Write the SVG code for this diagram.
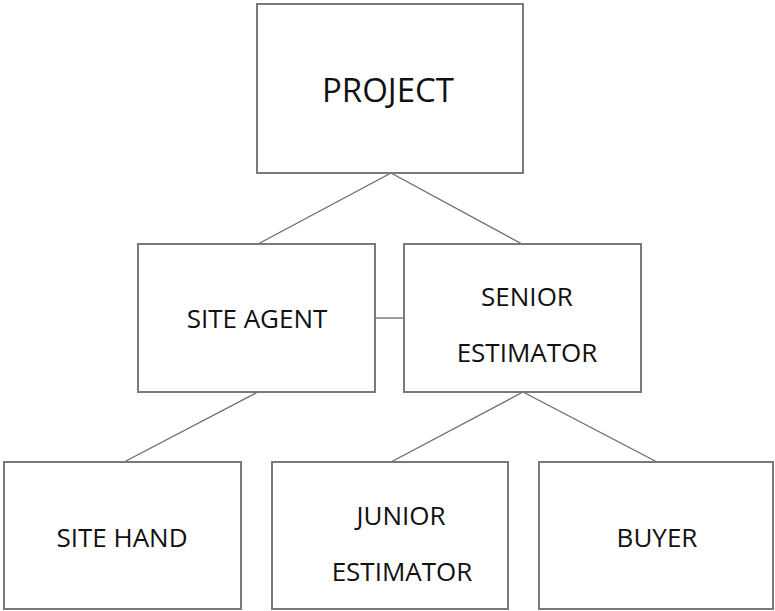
<svg xmlns="http://www.w3.org/2000/svg" width="775" height="611" viewBox="0 0 775 611">
<style>
.box{fill:#fff;stroke:#7a7a7a;stroke-width:2}
.ln{stroke:#6a6a6a;stroke-width:1.3;fill:none}
.t{font-family:"Open Sans","Noto Sans",sans-serif;fill:#111;text-anchor:middle;font-size:26px}
.big{font-size:33px}
</style>
<rect width="775" height="611" fill="#fff"/>
<g id="connectors">
<line class="ln" x1="391" y1="173" x2="258" y2="244"/>
<line class="ln" x1="391" y1="173" x2="522" y2="244"/>
<line class="ln" x1="375" y1="318" x2="404" y2="318"/>
<line class="ln" x1="258" y1="392" x2="124" y2="462"/>
<line class="ln" x1="523" y1="392" x2="391" y2="462"/>
<line class="ln" x1="523" y1="392" x2="657" y2="462"/>
</g>
<g id="project"><rect class="box" x="257" y="4" width="266" height="169"/><text class="t big" x="388" y="102">PROJECT</text></g>
<g id="site-agent"><rect class="box" x="138" y="244" width="237" height="148"/><text class="t" x="257" y="328">SITE AGENT</text></g>
<g id="senior-estimator"><rect class="box" x="404" y="244" width="237" height="148"/><text class="t" x="527" y="306">SENIOR</text><text class="t" x="527" y="362">ESTIMATOR</text></g>
<g id="site-hand"><rect class="box" x="4" y="462" width="237" height="147"/><text class="t" x="122" y="547">SITE HAND</text></g>
<g id="junior-estimator"><rect class="box" x="272" y="462" width="236" height="147"/><text class="t" x="401" y="525">JUNIOR</text><text class="t" x="402" y="581">ESTIMATOR</text></g>
<g id="buyer"><rect class="box" x="539" y="462" width="234" height="147"/><text class="t" x="657" y="547">BUYER</text></g>
</svg>
